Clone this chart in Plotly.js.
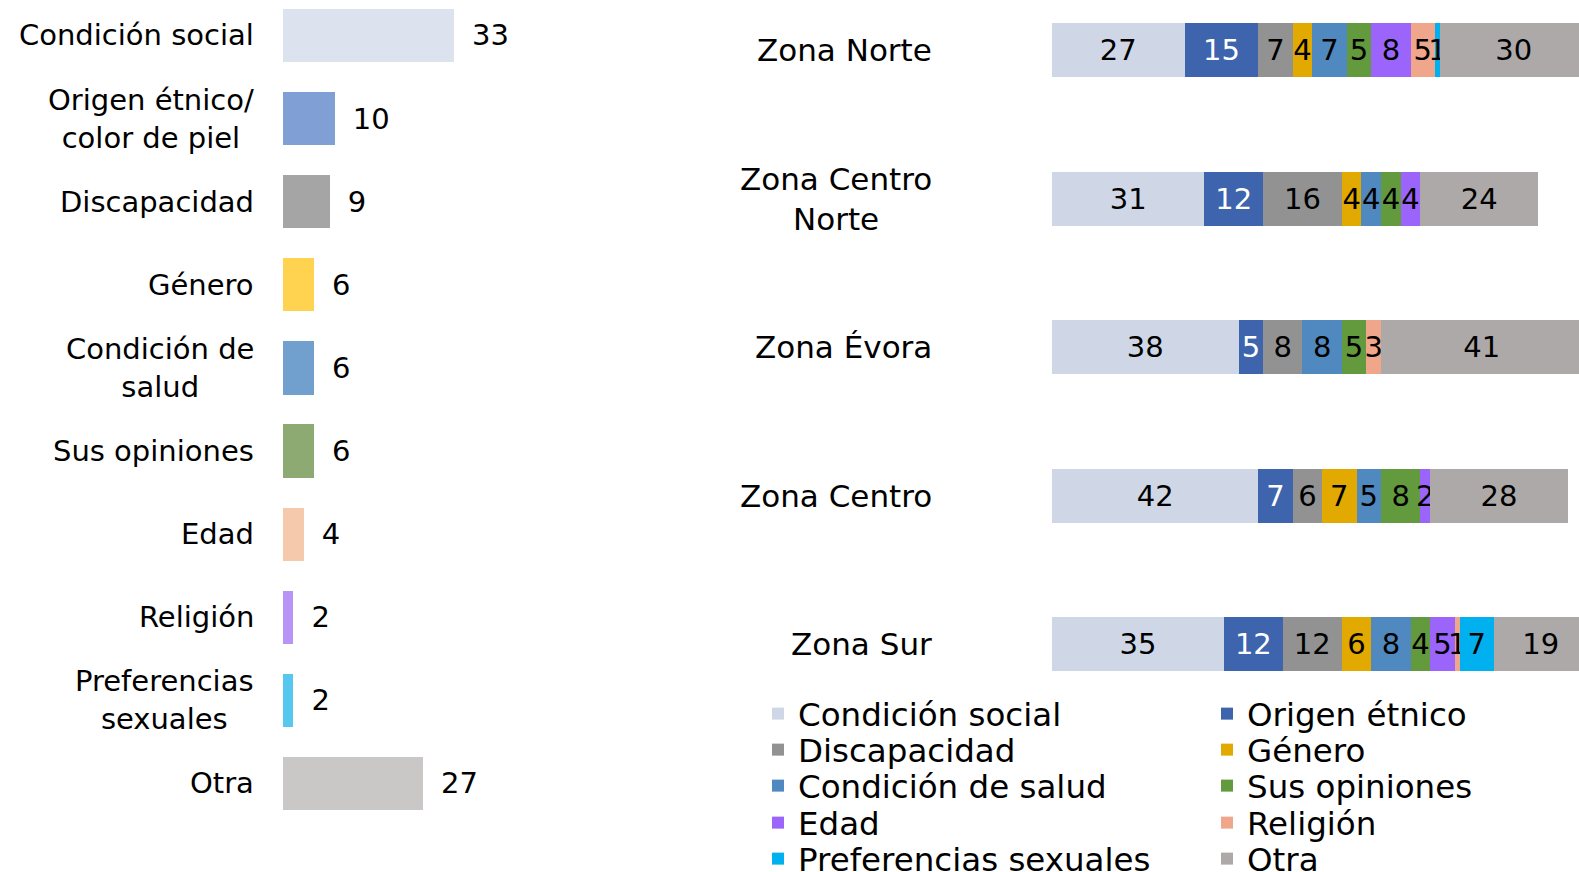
<!DOCTYPE html>
<html>
<head>
<meta charset="utf-8">
<script src="https://cdn.plot.ly/plotly-3.0.1.min.js"></script>
<style>html,body{margin:0;padding:0;background:#fff;}#chart{width:1579px;height:872px;}</style>
</head>
<body>
<div id="chart"></div>
<script>
// ---- Left chart data ----
const categories = ['Condición social','Origen étnico/color de piel','Discapacidad','Género','Condición de salud','Sus opiniones','Edad','Religión','Preferencias sexuales','Otra'];
const categoryLabels = ['Condición social','Origen étnico/<br>color de piel','Discapacidad','Género','Condición de<br>salud','Sus opiniones','Edad','Religión','Preferencias<br>sexuales','Otra'];
const totals = [33,10,9,6,6,6,4,2,2,27];
const totalColors = ['#DDE3EE','#7F9FD5','#A5A5A5','#FFD34F','#71A0CE','#8DAA73','#F5C9AB','#B994F7','#56C8F0','#C9C8C7'];

// ---- Right chart data ----
const zones = ['Zona Norte','Zona Centro Norte','Zona Évora','Zona Centro','Zona Sur'];
const zoneLabels = ['Zona Norte','Zona Centro<br>Norte','Zona Évora','Zona Centro','Zona Sur'];
const seriesNames = ['Condición social','Origen étnico','Discapacidad','Género','Condición de salud','Sus opiniones','Edad','Religión','Preferencias sexuales','Otra'];
const condicionSocial = [27,31,38,42,35];
const origenEtnico    = [15,12,5,7,12];
const discapacidad    = [7,16,8,6,12];
const genero          = [4,4,0,7,6];
const condicionSalud  = [7,4,8,5,8];
const susOpiniones    = [5,4,5,8,4];
const edad            = [8,4,0,2,5];
const religion        = [5,0,3,0,1];
const preferencias    = [1,0,0,0,7];
const otra            = [30,24,41,28,19];
const seriesValues = [condicionSocial,origenEtnico,discapacidad,genero,condicionSalud,susOpiniones,edad,religion,preferencias,otra];
const seriesColors = ['#CFD7E6','#3D64AC','#929292','#E2AA00','#5089BF','#639A3E','#9B65FB','#EFA68A','#00B0EF','#ADA9A8'];
const seriesTextColors = ['#000','#fff','#000','#000','#000','#000','#000','#000','#000','#000'];

const FONT = 'DejaVu Sans, sans-serif';
const W = 1579, H = 872;

const traces = [];
traces.push({
  type: 'bar', orientation: 'h',
  x: totals, y: categories,
  xaxis: 'x', yaxis: 'y',
  marker: {color: totalColors},
  width: 0.64,
  text: totals.map(v => ' \u2009' + v),
  textposition: 'outside',
  constraintext: 'none',
  cliponaxis: false,
  outsidetextfont: {family: FONT, size: 29, color: '#000'},
  showlegend: false,
  hoverinfo: 'x+y'
});

// legend slots: two columns, five rows
const legendCols = [758, 1207];
const legendRows = [714, 750, 786, 823, 859];
const legends = {};
seriesNames.forEach((name, i) => {
  const key = i === 0 ? 'legend' : 'legend' + (i + 1);
  legends[key] = {
    orientation: 'v', xanchor: 'left', yanchor: 'middle',
    x: legendCols[i % 2] / W, y: 1 - legendRows[Math.floor(i / 2)] / H,
    font: {family: FONT, size: 32.5, color: '#000'},
    bgcolor: 'rgba(0,0,0,0)', borderwidth: 0,
    itemclick: false, itemdoubleclick: false
  };
  traces.push({
    type: 'bar', orientation: 'h',
    name: name,
    x: seriesValues[i], y: zones,
    xaxis: 'x2', yaxis: 'y2',
    marker: {color: seriesColors[i]},
    width: 0.364,
    text: seriesValues[i].map(v => v === 0 ? '' : String(v)),
    textposition: 'inside',
    insidetextanchor: 'middle',
    textangle: 0,
    constraintext: 'none',
    insidetextfont: {family: FONT, size: 29, color: seriesTextColors[i]},
    legend: key,
    hoverinfo: 'x+name'
  });
});

const annotations = [];
categories.forEach((c, i) => {
  annotations.push({
    xref: 'paper', yref: 'y', x: 256 / W, y: c,
    text: categoryLabels[i], showarrow: false,
    xanchor: 'right', yanchor: 'middle', align: 'center',
    font: {family: FONT, size: 29, color: '#000'}
  });
});
zones.forEach((z, i) => {
  annotations.push({
    xref: 'paper', yref: 'y2', x: 934 / W, y: z,
    text: zoneLabels[i], showarrow: false,
    xanchor: 'right', yanchor: 'middle', align: 'center',
    font: {family: FONT, size: 31, color: '#000'}
  });
});

const layout = Object.assign({
  width: W, height: H,
  margin: {l: 0, r: 0, t: 0, b: 0, pad: 0, autoexpand: false},
  paper_bgcolor: '#fff', plot_bgcolor: 'rgba(0,0,0,0)',
  barmode: 'stack',
  font: {family: FONT, color: '#000'},
  xaxis: {domain: [283 / W, 594 / W], range: [0, 60], visible: false, fixedrange: true},
  yaxis: {domain: [0, 1], range: [10.065, -0.427], type: 'category', categoryorder: 'array', categoryarray: categories, visible: false, fixedrange: true},
  xaxis2: {domain: [1052 / W, 1], range: [0, 107.3], visible: false, fixedrange: true},
  yaxis2: {domain: [0, 1], range: [5.535, -0.337], type: 'category', categoryorder: 'array', categoryarray: zones, visible: false, fixedrange: true, anchor: 'x2'},
  annotations: annotations,
  showlegend: true
}, legends);

Plotly.newPlot('chart', traces, layout, {displayModeBar: false, staticPlot: true});
</script>
</body>
</html>
